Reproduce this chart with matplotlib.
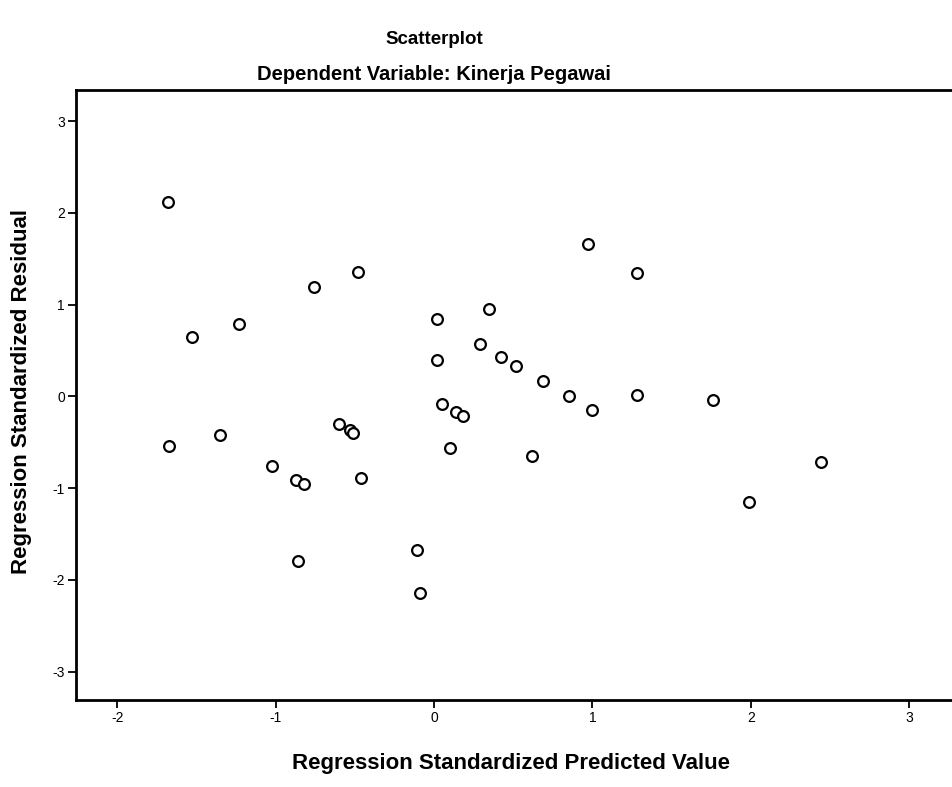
import matplotlib
matplotlib.use("Agg")
import matplotlib.pyplot as plt
import numpy as np

plt.rcParams['font.family'] = ['Liberation Sans', 'DejaVu Sans']

# Regression standardized predicted value (x) and standardized residual (y)
pred = [-1.68, -1.53, -1.67, -1.23, -1.35, -1.02, -0.87, -0.82, -0.86, -0.76,
        -0.60, -0.53, -0.51, -0.48, -0.46, -0.11, -0.09, 0.02, 0.02, 0.05,
        0.10, 0.14, 0.18, 0.29, 0.35, 0.42, 0.52, 0.62, 0.69, 0.85,
        0.97, 1.00, 1.28, 1.28, 1.76, 1.99, 2.44]
resid = [2.12, 0.65, -0.54, 0.79, -0.42, -0.76, -0.91, -0.96, -1.79, 1.19,
         -0.30, -0.37, -0.40, 1.36, -0.89, -1.68, -2.14, 0.84, 0.40, -0.08,
         -0.56, -0.17, -0.21, 0.57, 0.95, 0.43, 0.33, -0.65, 0.17, 0.00,
         1.66, -0.15, 1.35, 0.02, -0.04, -1.15, -0.72]

xticks = [-2, -1, 0, 1, 2, 3]
yticks = [-3, -2, -1, 0, 1, 2, 3]

fig = plt.figure(figsize=(9.52, 7.87), dpi=100)
# axes box runs off the right edge of the page, like the scan
ax = fig.add_axes([76 / 952, 87 / 787, 884 / 952, 610 / 787])

ax.scatter(pred, resid, s=60, facecolors='white', edgecolors='black', linewidths=1.6, zorder=3)

ax.set_xlim(-2.26, 3.32)
ax.set_ylim(-3.31, 3.34)
ax.set_xticks(xticks)
ax.set_yticks(yticks)
ax.set_xticklabels([str(t) for t in xticks])
ax.set_yticklabels([str(t) for t in yticks])
ax.tick_params(axis='both', direction='out', length=6, width=1.3, labelsize=10, pad=2)

for sp in ax.spines.values():
    sp.set_linewidth(2)

fig.text(0.456, 1 - 40 / 787, 'Scatterplot', ha='center', va='center',
         fontsize=13.5, fontweight='bold')
fig.text(0.456, 1 - 74 / 787, 'Dependent Variable: Kinerja Pegawai', ha='center', va='center',
         fontsize=14.5, fontweight='bold')
fig.text(511 / 952, 1 - 763 / 787, 'Regression Standardized Predicted Value', ha='center',
         va='center', fontsize=16, fontweight='bold')
fig.text(22 / 952, 1 - 392 / 787, 'Regression Standardized Residual', ha='center',
         va='center', rotation=90, fontsize=16, fontweight='bold')

fig.savefig('out.png', dpi=100)
